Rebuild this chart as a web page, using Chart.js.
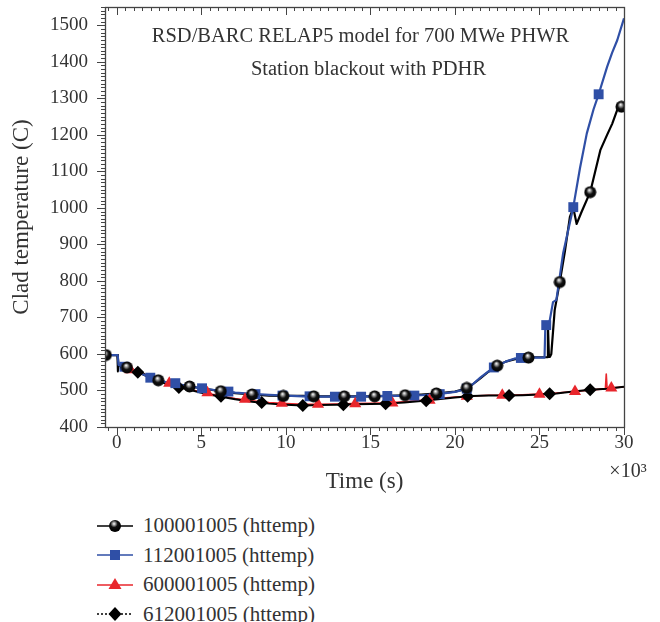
<!DOCTYPE html>
<html><head><meta charset="utf-8">
<script src="https://cdn.jsdelivr.net/npm/chart.js@4.4.1/dist/chart.umd.min.js"></script>
<style>
html,body{margin:0;padding:0;background:#fff;}
#wrap{position:relative;width:660px;height:622px;overflow:hidden;}
#chartBox{position:absolute;left:0;top:0;width:660px;height:500px;}
#legend{position:absolute;left:97px;top:511px;font-family:"Liberation Serif",serif;font-size:21px;color:#333;}
.row{height:29.5px;display:flex;align-items:center;white-space:nowrap;}
.row svg{margin-right:10px;flex:none;}
</style></head><body>
<div id="wrap">
<div id="chartBox"><canvas id="c" width="660" height="500"></canvas></div>
<div id="legend"></div>
</div>
<script>
// ---- data (time in s, temperature in C) ----
const seriesNames = ["100001005 (httemp)", "112001005 (httemp)", "600001005 (httemp)", "612001005 (httemp)"];
const xTickValues = [0, 5000, 10000, 15000, 20000, 25000, 30000];
const xTickLabels = ["0", "5", "10", "15", "20", "25", "30"];
const yTickValues = [400,500,600,700,800,900,1000,1100,1200,1300,1400,1500];
const yTickLabels = ["400","500","600","700","800","900","1000","1100","1200","1300","1400","1500"];

const s1Time = [-700,0,50,100,300,600,1000,1500,2000,2500,3000,3500,4000,5000,6000,7000,8000,9000,10000,11000,12000,13000,14000,15000,16000,17000,18000,19000,20000,20500,21000,21500,22000,22500,23000,23500,24000,24500,25000,25450,25500,25560,25620,25700,25900,26200,26500,26800,27000,27200,27500,28000,28300,28600,29000,29300,29600,29800,30000];
const s1Temp = [597,597,597,568,566,563,556,547,536,527,521,517,513,506,499,493,489,486,485,485,484,484,484,484,485,487,489,492,497,503,515,533,552,568,579,585,589,591,591,591,680,592,592,600,720,797,880,975,1000,956,990,1043,1100,1158,1200,1230,1268,1278,1268];

const s2Time = [-700,0,50,100,300,600,1000,1500,2000,2500,3000,3500,4000,5000,6000,7000,8000,9000,10000,11000,12000,13000,14000,15000,16000,17000,18000,19000,20000,20500,21000,21500,22000,22500,23000,23500,24000,25000,25300,25350,25600,25800,26000,26400,27000,27400,27800,28200,28500,29000,29300,29600,30000];
const s2Temp = [597,597,597,570,567,564,556,545,535,528,522,518,514,506,500,494,491,488,486,484,483,483,483,484,485,485,487,490,496,502,515,535,553,567,579,587,590,590,590,680,690,742,748,876,1002,1110,1204,1270,1311,1386,1425,1459,1519];

const s3Time = [-700,0,50,100,500,1000,1500,2000,2500,3000,3500,4000,5000,6000,7000,8000,9000,10000,11000,12000,13000,14000,15000,16000,17000,18000,19000,20000,21000,22000,23000,24000,25000,26000,27000,28000,28900,28950,29000,30000];
const s3Temp = [597,597,597,568,563,555,546,535,526,519,513,506,496,486,478,472,467,464,462,462,463,464,465,466,469,473,478,482,485,487,487,488,490,493,497,501,505,545,506,510];

const s4Time = [-700,0,30,60,100,500,1000,1500,2000,2500,3000,3500,4000,5000,6000,7000,8000,9000,10000,11000,12000,13000,14000,15000,16000,17000,18000,19000,20000,21000,22000,23000,24000,25000,26000,27000,28000,29000,30000];
const s4Temp = [597,597,597,552,568,563,554,545,534,525,517,511,505,494,484,476,469,464,461,459,460,461,462,463,464,467,471,476,481,485,486,486,487,489,492,497,502,505,510];

// marker positions
const m1Time = [-650,600,2450,4300,6150,8000,9850,11650,13450,15250,17050,18900,20700,22500,24350,26200,28000,29850];
const m1Temp = [597,563,528,511,498,489,485,484,484,484,487,492,507,568,590,797,1043,1277];
const m2Time = [450,1980,3460,5040,6600,8200,9800,11400,12900,14450,16000,17600,19100,20700,22300,23900,25400,27000,28500];
const m2Temp = [565,535,520,506,497,490,486,484,483,483,485,486,490,505,563,589,679,1002,1311];
const m3Time = [800,3100,5360,7580,9760,11900,14100,16300,18500,20700,22800,25000,27100,29250];
const m3Temp = [557,520,494,476,465,462,464,466,473,484,487,490,497,507];
const m4Time = [-770,1240,3670,6160,8570,11000,13400,15900,18300,20750,23200,25600,28000];
const m4Temp = [597,550,508,484,467,459,461,464,472,484,486,491,502];

const FONT = '"Liberation Serif", "Times New Roman", serif';
const BLUE = '#2f4fa6', RED = '#e8262c', BLACK = '#000';

function pts(t, v){ return t.map((x,i)=>({x:x, y:v[i]})); }

function sphere(){
  const c=document.createElement('canvas'); c.width=13; c.height=13;
  const g=c.getContext('2d');
  const gr=g.createRadialGradient(5.5,4.2,0.2,6.5,6.5,6.5);
  gr.addColorStop(0,'#ffffff'); gr.addColorStop(0.22,'#999'); gr.addColorStop(0.5,'#111'); gr.addColorStop(1,'#000');
  g.fillStyle=gr; g.beginPath(); g.arc(6.5,6.5,6,0,Math.PI*2); g.fill();
  return c;
}
const sph = sphere();

const lineBase = {showLine:true, pointRadius:0, fill:false, tension:0, borderJoinStyle:'round'};
const markBase = {showLine:false, pointHoverRadius:0};

const datasets = [
  Object.assign({label:seriesNames[0]+' line', data:pts(s1Time,s1Temp), borderColor:BLACK, borderWidth:2.2, order:9}, lineBase),
  Object.assign({label:seriesNames[2]+' line', data:pts(s3Time,s3Temp), borderColor:RED, borderWidth:1.6, order:8}, lineBase),
  Object.assign({label:seriesNames[3]+' line', data:pts(s4Time,s4Temp), borderColor:BLACK, borderWidth:2, order:7}, lineBase),
  Object.assign({label:seriesNames[1]+' line', data:pts(s2Time,s2Temp), borderColor:BLUE, borderWidth:2.2, order:6}, lineBase),
  Object.assign({label:seriesNames[2], data:pts(m3Time,m3Temp), pointStyle:'triangle', pointRadius:7, backgroundColor:RED, borderColor:RED, borderWidth:0, order:4}, markBase),
  Object.assign({label:seriesNames[3], data:pts(m4Time,m4Temp), pointStyle:'rectRot', pointRadius:6.5, backgroundColor:BLACK, borderColor:BLACK, borderWidth:0, order:3}, markBase),
  Object.assign({label:seriesNames[1], data:pts(m2Time,m2Temp), pointStyle:'rect', pointRadius:7, backgroundColor:BLUE, borderColor:BLUE, borderWidth:0, order:2}, markBase),
  Object.assign({label:seriesNames[0], data:pts(m1Time,m1Temp), pointStyle:sph, pointRadius:6, order:1}, markBase)
];

const frame = {
  id:'frame',
  afterDatasetsDraw(chart){
    const {ctx, chartArea:a, scales:{x,y}} = chart;
    ctx.save();
    ctx.strokeStyle='#444'; ctx.lineWidth=1.3;
    ctx.strokeRect(a.left+0.5, a.top+0.5, a.right-a.left, a.bottom-a.top);
    ctx.lineWidth=1;
    ctx.beginPath();
    for(let v=-500; v<=30000; v+=500){
      const px=Math.round(x.getPixelForValue(v))+0.5;
      const L = (v%5000===0)?8:4;
      ctx.moveTo(px,a.bottom); ctx.lineTo(px,a.bottom+L);
      ctx.moveTo(px,a.top); ctx.lineTo(px,a.top+L);
    }
    for(let v=400; v<=1550; v+=10){
      const py=Math.round(y.getPixelForValue(v))+0.5;
      const L = (v%100===0)?8:4;
      ctx.moveTo(a.left-L,py); ctx.lineTo(a.left,py);
    }
    ctx.stroke();
    ctx.fillStyle='#333';
    ctx.font='20.5px '+FONT;
    ctx.textAlign='center'; ctx.textBaseline='middle';
    const cx=(a.left+a.right)/2;
    ctx.fillText('RSD/BARC RELAP5 model for 700 MWe PHWR', cx-4, 37);
    ctx.fillText('Station blackout with PDHR', cx+4, 70);
    ctx.font='20px '+FONT;
    ctx.fillText('\u00d710\u00b3', a.right+4, 472);
    ctx.restore();
  }
};

new Chart(document.getElementById('c'), {
  type:'scatter',
  data:{datasets},
  options:{
    responsive:false, animation:false, devicePixelRatio:1, events:[],
    layout:{autoPadding:false, padding:{top:7,right:36,left:0,bottom:0}},
    plugins:{legend:{display:false}, tooltip:{enabled:false}},
    scales:{
      x:{type:'linear', min:-700, max:30000,
        grid:{display:false, drawTicks:false}, border:{display:false},
        afterBuildTicks:(s)=>{s.ticks=xTickValues.map(v=>({value:v}));},
        ticks:{autoSkip:false, maxRotation:0, padding:5, color:'#333',
          font:{family:FONT, size:19},
          callback:(v,i)=>xTickLabels[i]},
        title:{display:true, text:'Time (s)', color:'#333', font:{family:FONT, size:23}, padding:{top:0,bottom:4}},
        afterFit:(s)=>{s.height=73; s.paddingLeft=0; s.paddingRight=0;}
      },
      y:{type:'linear', min:400, max:1550,
        grid:{display:false, drawTicks:false}, border:{display:false},
        afterBuildTicks:(s)=>{s.ticks=yTickValues.map(v=>({value:v}));},
        ticks:{autoSkip:false, padding:17, color:'#333',
          font:{family:FONT, size:19},
          callback:(v,i)=>yTickLabels[i]},
        title:{display:true, text:'Clad temperature (C)', color:'#333', font:{family:FONT, size:23}, padding:{top:8,bottom:0}},
        afterFit:(s)=>{s.width=105; s.paddingTop=0; s.paddingBottom=0;}
      }
    }
  },
  plugins:[frame]
});

// legend (HTML)
const lg=document.getElementById('legend');
const icons=[
  '<svg width="36" height="20"><defs><radialGradient id="gs" cx="0.42" cy="0.32" r="0.6"><stop offset="0" stop-color="#fff"/><stop offset="0.22" stop-color="#999"/><stop offset="0.5" stop-color="#111"/><stop offset="1" stop-color="#000"/></radialGradient></defs><line x1="0" y1="10" x2="36" y2="10" stroke="#000" stroke-width="1.5"/><circle cx="18" cy="10" r="6" fill="url(#gs)"/></svg>',
  '<svg width="36" height="20"><line x1="0" y1="10" x2="36" y2="10" stroke="'+BLUE+'" stroke-width="1.5"/><rect x="13" y="5" width="10" height="10" fill="'+BLUE+'"/></svg>',
  '<svg width="36" height="20"><line x1="0" y1="10" x2="36" y2="10" stroke="'+RED+'" stroke-width="1.5"/><polygon points="18,3 24.5,14 11.5,14" fill="'+RED+'"/></svg>',
  '<svg width="36" height="20"><line x1="0" y1="10" x2="36" y2="10" stroke="#000" stroke-width="1.5" stroke-dasharray="2,2"/><polygon points="18,3 24.5,10 18,17 11.5,10" fill="#000"/></svg>'
];
seriesNames.forEach((n,i)=>{
  const r=document.createElement('div'); r.className='row';
  r.innerHTML=icons[i]+'<span>'+n+'</span>';
  lg.appendChild(r);
});
</script>
</body></html>
